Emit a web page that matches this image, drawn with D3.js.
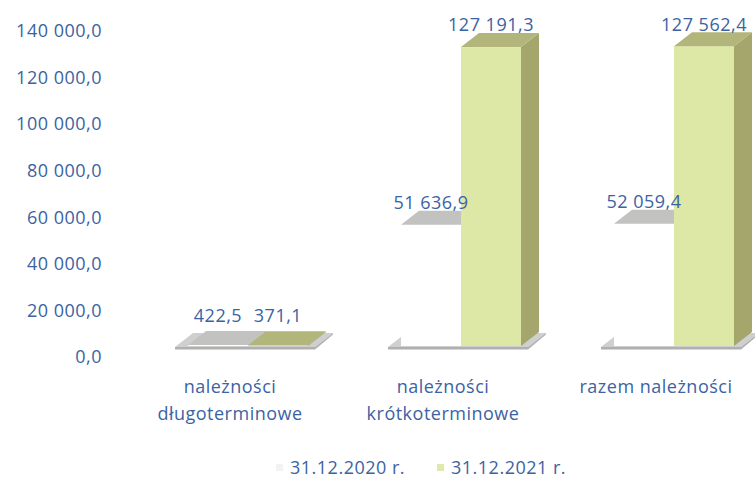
<!DOCTYPE html>
<html><head><meta charset="utf-8">
<script src="https://cdn.jsdelivr.net/npm/d3@7"></script>
<style>html,body{margin:0;padding:0;background:#fff}svg{display:block}</style>
</head><body>
<script>
const categories = [["należności","długoterminowe"],["należności","krótkoterminowe"],["razem należności"]];
const catKeys = ["dl","kr","razem"];
const seriesNames = ["31.12.2020 r.","31.12.2021 r."];
const values2020 = [422.5, 51636.9, 52059.4];
const values2021 = [371.1, 127191.3, 127562.4];
const valueLabels2020 = ["422,5","51 636,9","52 059,4"];
const valueLabels2021 = ["371,1","127 191,3","127 562,4"];
const tickValues = [0,20000,40000,60000,80000,100000,120000,140000];
const tickLabels = ["0,0","20 000,0","40 000,0","60 000,0","80 000,0","100 000,0","120 000,0","140 000,0"];

const W=755,H=479;
const font="'Open Sans', 'Noto Sans', sans-serif";
const fs=18, ls="0.5px";
const blue="#3b63a3";
const svg=d3.select("body").append("svg").attr("width",W).attr("height",H);

const dx=18, dy=-14;
const yAxis=d3.scaleLinear().domain([0,140000]).range([357,31]);
const yBar=d3.scaleLinear().domain([0,140000]).range([346,17]);
const x0=d3.scaleBand().domain(catKeys).range([141.5,780.5]);
const x1=d3.scaleBand().domain(seriesNames).range([0,120]);
const clusterLeft=k=>x0(k)+x0.bandwidth()/2-60;

const txt=sel=>sel.attr("font-family",font).attr("font-size",fs).attr("letter-spacing",ls).attr("fill",blue);

// y axis labels
svg.append("g").selectAll("text").data(tickValues).join("text")
  .attr("x",102).attr("y",d=>yAxis(d)).attr("dy","0.35em")
  .attr("text-anchor","end").call(txt).text((d,i)=>tickLabels[i]);

const poly=pts=>"M"+pts.map(p=>p.join(",")).join("L")+"Z";

// floors
const y0=yBar(0);
svg.append("g").selectAll("g").data(catKeys).join("g").each(function(k){
  const L=clusterLeft(k)-13, R=clusterLeft(k)+120+7;
  const g=d3.select(this);
  g.append("path").attr("d",poly([[L,y0+1],[R,y0+1],[R+dx,y0+1+dy],[L+dx,y0+1+dy]])).attr("fill","#cfcfcf");
  g.append("path").attr("d",poly([[L,y0+1],[R,y0+1],[R+dx,y0+1+dy],[R+dx,y0+2.5+dy],[R,y0+3.5],[L,y0+3.5]])).attr("fill","#b0b0b0");
});

const series=[
  {name:seriesNames[0],vals:values2020,labels:valueLabels2020,front:"#ffffff",top:"#c2c2c0",side:"#b8b8b6"},
  {name:seriesNames[1],vals:values2021,labels:valueLabels2021,front:"#dde7a6",top:"#b3b67a",side:"#a5a66c"}
];

series.forEach(s=>{
  const g=svg.append("g");
  catKeys.forEach((k,i)=>{
    const x=clusterLeft(k)+x1(s.name), w=x1.bandwidth(), y=yBar(s.vals[i]);
    g.append("path").attr("d",poly([[x+w,y],[x+w+dx,y+dy],[x+w+dx,y0+dy],[x+w,y0]])).attr("fill",s.side);
    g.append("rect").attr("x",x).attr("y",y).attr("width",w).attr("height",Math.max(0,y0-y)).attr("fill",s.front);
    g.append("path").attr("d",poly([[x,y],[x+w,y],[x+w+dx,y+dy],[x+dx,y+dy]])).attr("fill",s.top);
  });
});

// data labels
series.forEach(s=>{
  svg.append("g").selectAll("text").data(catKeys).join("text")
    .attr("x",k=>clusterLeft(k)+x1(s.name)+x1.bandwidth()/2)
    .attr("y",(k,i)=>Math.min(yBar(s.vals[i])-22, 316)).attr("dy","0.35em")
    .attr("text-anchor","middle").call(txt).text((k,i)=>s.labels[i]);
});

// category labels
svg.append("g").selectAll("text").data(catKeys).join("text")
  .attr("x",k=>x0(k)+x0.bandwidth()/2-18).attr("y",388)
  .attr("text-anchor","middle").call(txt)
  .each(function(k,i){
    const t=d3.select(this);
    categories[i].forEach((line,j)=>t.append("tspan").attr("x",x0(k)+x0.bandwidth()/2-18).attr("dy",j?27:0).attr("dominant-baseline","middle").text(line));
  });

// legend
const legX=[276,437];
series.forEach((s,i)=>{
  svg.append("rect").attr("x",legX[i]).attr("y",464).attr("width",7).attr("height",7)
    .attr("fill",i?"#dfe9ac":"#f3f3f3");
  svg.append("text").attr("x",legX[i]+14).attr("y",468).attr("dy","0.35em")
    .call(txt).text(s.name);
});
</script>
</body></html>
